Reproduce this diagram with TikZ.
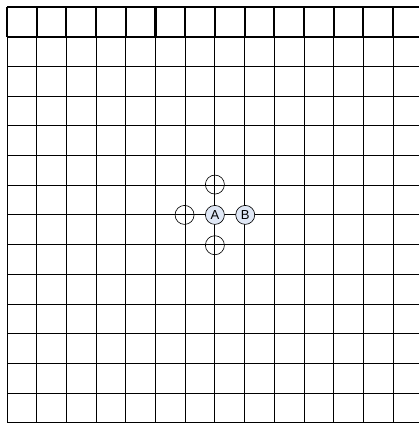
\documentclass[tikz,border=0pt]{standalone}
\usepackage{fontspec}
\newfontfamily\stonefont{Liberation Sans}
\usetikzlibrary{positioning}
\definecolor{stonefill}{HTML}{DFE7F5}
\tikzset{
  gridline/.style={line width=0.9pt},
  headline/.style={line width=2pt},
  stone/.style={circle,draw,line width=0.6pt,fill=stonefill,minimum size=0.64cm,inner sep=0pt,font=\stonefont\fontsize{12.5}{12.5}\selectfont},
  liberty/.style={circle,draw,line width=0.6pt,minimum size=0.64cm,inner sep=0pt}
}
\begin{document}
\begin{tikzpicture}[x=1cm,y=1cm]
\useasboundingbox (-0.236,0.236) rectangle (13.87,-14.007);
% board
\foreach \r in {2,...,14} \draw[gridline] (0,-\r)--(13.87,-\r);
\foreach \c in {0,...,13} \draw[gridline] (\c,-1)--(\c,-14.01);
% top row
\draw[headline] (0,0)--(13.87,0);\draw[headline] (0,-1)--(13.87,-1);
\foreach \c in {0,...,13} \draw[headline] (\c,0)--(\c,-1);
% stones and liberties
\node[stone] (a) at (7,-7) {A};
\node[stone,right=0.36cm of a] (b) {B};
\node[liberty,above=0.36cm of a] (up) {};
\node[liberty,below=0.36cm of a] (down) {};
\node[liberty,left=0.36cm of a] (left) {};
\end{tikzpicture}
\end{document}
